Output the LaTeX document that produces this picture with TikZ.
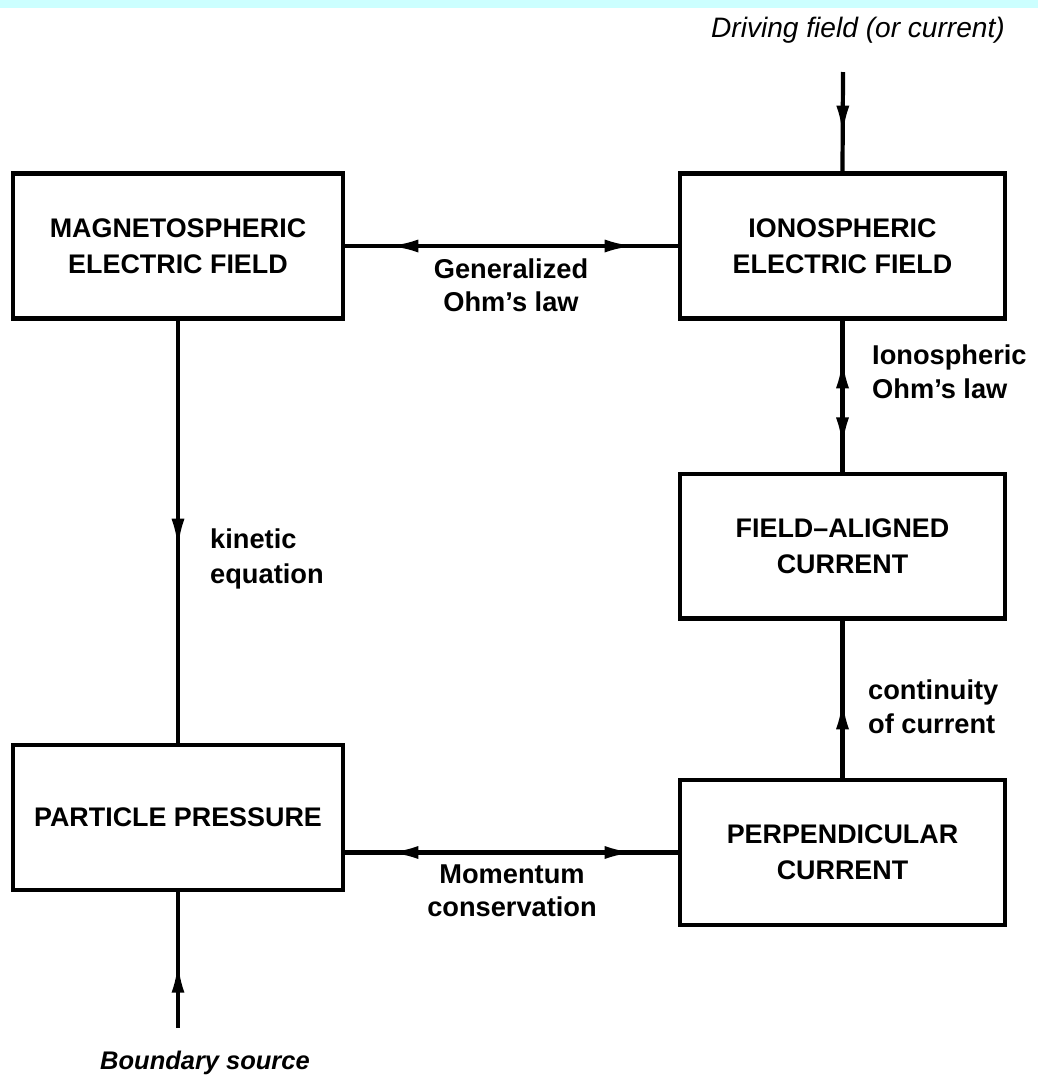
\documentclass[tikz,border=0pt]{standalone}
\usepackage{fontspec}
\setmainfont{Liberation Sans}
\usetikzlibrary{arrows.meta,decorations.markings}
\definecolor{band}{HTML}{CCFFFF}
\tikzset{
  box/.style={draw, line width=2.3pt, minimum width=6.6cm, minimum height=2.9cm, align=center,
    font=\bfseries\fontsize{15.3}{20.5}\selectfont},
  lbl/.style={align=left, font=\bfseries\fontsize{15.5}{19.5}\selectfont},
  clbl/.style={align=center, font=\bfseries\fontsize{15.5}{19}\selectfont},
  link/.style={line width=2.4pt},
  tipat/.style={postaction={decorate, decoration={markings,
    mark=at position #1 with {\arrow{Latex[length=6mm,width=2.6mm]}}}}},
  tipback/.style={postaction={decorate, decoration={markings,
    mark=at position #1 with {\arrowreversed{Latex[length=6mm,width=2.6mm]}}}}}
}
\begin{document}
\begin{tikzpicture}[x=0.02cm, y=-0.02cm]
\useasboundingbox (0,0) rectangle (1038,1089);
\fill[band] (0,0) rectangle (1038,8);
% boxes
\node[box] (mag) at (178,246) {MAGNETOSPHERIC\\ELECTRIC FIELD};
\node[box, minimum width=6.5cm] (ion) at (842.5,246) {IONOSPHERIC\\ELECTRIC FIELD};
\node[box, minimum width=6.5cm] (fa) at (842.5,546) {FIELD--ALIGNED\\CURRENT};
\node[box] (pp) at (178,817.5) {PARTICLE PRESSURE};
\node[box, minimum width=6.5cm] (perp) at (842.5,852.5) {PERPENDICULAR\\CURRENT};
% outside inputs
\node[font=\itshape\fontsize{16}{19}\selectfont] (drv) at (858,30) {Driving field (or current)};
\node[font=\bfseries\itshape\fontsize{14.5}{18}\selectfont] (bnd) at (205,1063) {Boundary source};
\coordinate (drvend) at (843,72);
\coordinate (bndend) at (178,1028);
% labels
\node[clbl] (ohm) at (511,285) {Generalized\\Ohm's law};
\node[lbl, anchor=west] (ionohm) at (866,372) {Ionospheric\\Ohm's law};
\node[lbl, anchor=west] (kin) at (204,559) {kinetic\\equation};
\node[lbl, anchor=west] (cont) at (862,707) {continuity\\of current};
\node[clbl] (mom) at (512,891) {Momentum\\conservation};
% connectors
\draw[link, tipat=0.64] (drvend) -- (ion.north);
\draw[link, tipback=0.13, tipat=0.87] (ion.west -| mag.east) -- (ion.west);
\draw[link, tipback=0.25, tipat=0.84] (ion.south) -- (fa.north);
\draw[link, tipat=0.54] (mag.south) -- (pp.north);
\draw[link, tipat=0.5] (perp.north) -- (fa.south);
\draw[link, tipback=0.13, tipat=0.87] (perp.west -| pp.east) -- (perp.west);
\draw[link, tipat=0.48] (bndend) -- (pp.south);
\end{tikzpicture}
\end{document}
